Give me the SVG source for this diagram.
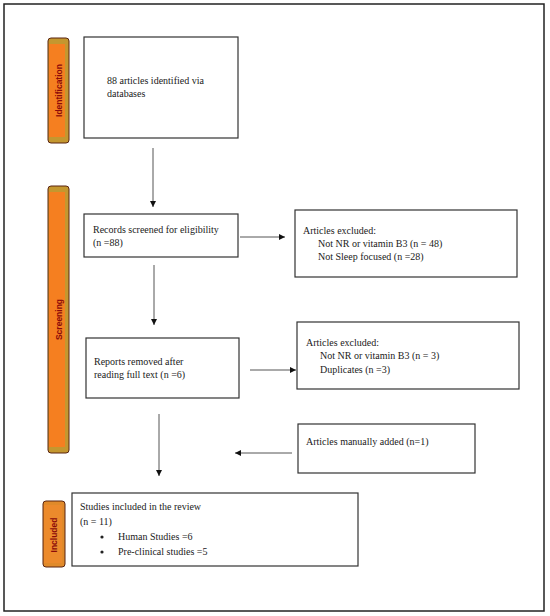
<svg xmlns="http://www.w3.org/2000/svg" width="550" height="616" viewBox="0 0 550 616">
<defs>
<style>
.box{fill:#fff;stroke:#333;stroke-width:1.2}
.t{font-family:"Liberation Serif","DejaVu Serif",serif;font-size:10px;fill:#1a1a1a}
.bar{fill:#C4972F;stroke:#5a2410;stroke-width:1}
.barin{fill:#F57F20}
.lab{font-family:"Liberation Sans",Arial,sans-serif;font-size:8.5px;font-weight:bold;fill:#8B0A0A}
.c{stroke:#555;stroke-width:1;fill:none;marker-end:url(#ah)}
</style>
<marker id="ah" viewBox="0 0 8 8" refX="8" refY="4" markerWidth="6" markerHeight="6" markerUnits="userSpaceOnUse" orient="auto">
<path d="M0,0 L8,4 L0,8 z" fill="#111"/>
</marker>
</defs>
<rect x="0" y="0" width="550" height="616" fill="#fff"/>
<rect x="4" y="4" width="540" height="607" fill="none" stroke="#222" stroke-width="1.5"/>

<g id="bar-identification">
<rect class="bar" x="48" y="38" width="21" height="105" rx="3"/>
<rect class="barin" x="49" y="44" width="16" height="93"/>
<text class="lab" transform="translate(61.5,90.5) rotate(-90)" text-anchor="middle">Identification</text>
</g>
<g id="bar-screening">
<rect class="bar" x="48" y="186" width="21" height="267" rx="3"/>
<rect class="barin" x="49" y="192" width="16" height="255"/>
<text class="lab" transform="translate(61.5,319.5) rotate(-90)" text-anchor="middle">Screening</text>
</g>
<g id="bar-included">
<rect class="bar" x="43" y="501" width="22" height="66" rx="3" style="fill:#E08A2A"/>
<rect class="barin" x="44" y="505" width="18" height="58" style="fill:#EC8A2C"/>
<text class="lab" transform="translate(57,535) rotate(-90)" text-anchor="middle">Included</text>
</g>

<g id="connectors">
<line class="c" x1="153" y1="148" x2="153" y2="207"/>
<line class="c" x1="240" y1="237" x2="285" y2="237"/>
<line class="c" x1="154" y1="265" x2="154" y2="325"/>
<line class="c" x1="250" y1="370" x2="296" y2="370"/>
<line class="c" x1="159" y1="414" x2="159" y2="476"/>
<line class="c" x1="292" y1="453" x2="235" y2="453"/>
</g>

<g id="n-identified">
<rect class="box" x="84" y="37" width="154" height="101"/>
<text class="t" x="107" y="84">88 articles identified via</text>
<text class="t" x="107" y="97">databases</text>
</g>
<g id="n-screened">
<rect class="box" x="84" y="214" width="154" height="43"/>
<text class="t" x="93" y="233">Records screened for eligibility</text>
<text class="t" x="93" y="246">(n =88)</text>
</g>
<g id="n-excluded1">
<rect class="box" x="295" y="210" width="222" height="67"/>
<text class="t" x="303" y="234">Articles excluded:</text>
<text class="t" x="318" y="247">Not NR or vitamin B3 (n = 48)</text>
<text class="t" x="318" y="260">Not Sleep focused (n =28)</text>
</g>
<g id="n-reports">
<rect class="box" x="86" y="338" width="153" height="60"/>
<text class="t" x="94" y="365">Reports removed after</text>
<text class="t" x="94" y="378">reading full text (n =6)</text>
</g>
<g id="n-excluded2">
<rect class="box" x="297" y="322" width="222" height="67"/>
<text class="t" x="306" y="346">Articles excluded:</text>
<text class="t" x="320" y="359">Not NR or vitamin B3 (n = 3)</text>
<text class="t" x="320" y="373">Duplicates (n =3)</text>
</g>
<g id="n-added">
<rect class="box" x="298" y="424" width="177" height="49"/>
<text class="t" x="306" y="445">Articles manually added (n=1)</text>
</g>
<g id="n-included">
<rect class="box" x="72" y="493" width="286" height="73"/>
<text class="t" x="80" y="510">Studies included in the review</text>
<text class="t" x="80" y="525">(n = 11)</text>
<circle cx="102" cy="537" r="1.6" fill="#222"/>
<text class="t" x="118" y="540">Human Studies =6</text>
<circle cx="102" cy="552" r="1.6" fill="#222"/>
<text class="t" x="118" y="555">Pre-clinical studies =5</text>
</g>
</svg>
